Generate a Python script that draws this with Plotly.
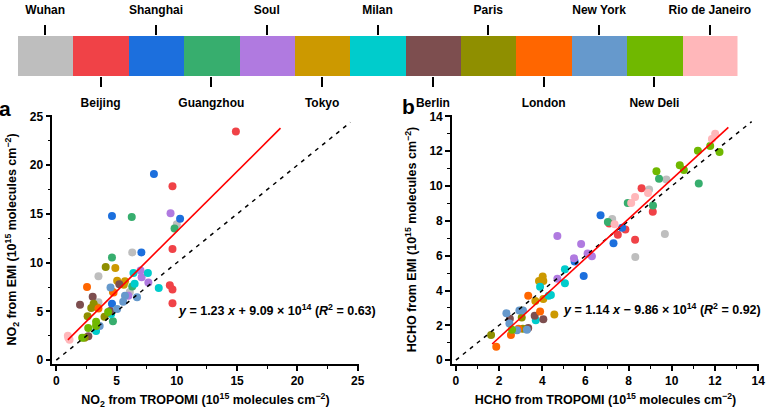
import plotly.graph_objects as go

FONT = "Liberation Sans"

cities = ["Wuhan", "Beijing", "Shanghai", "Guangzhou", "Soul", "Tokyo", "Milan",
          "Berlin", "Paris", "London", "New York", "New Deli", "Rio de Janeiro"]
colors = ["#bebebe", "#f04247", "#1c6fdd", "#37ae6e", "#b07ae0", "#cc9900", "#00cccc",
          "#7d4e4f", "#8f8f00", "#ff6600", "#6699cc", "#70b800", "#ffb7ba"]

# panel a: NO2 (10^15 molecules cm-2), TROPOMI (x) vs EMI (y)
no2_x = {
    "Wuhan": [3.5, 6.3, 10.0, 6.1, 3.5],
    "Beijing": [14.9, 9.64, 9.64, 9.42, 9.64, 9.64],
    "Shanghai": [8.1, 4.62, 10.27, 7.06, 4.62],
    "Guangzhou": [6.26, 9.81, 4.62, 6.3, 4.7],
    "Soul": [9.48, 6.99, 7.08, 7.64, 5.98],
    "Tokyo": [4.9, 5.05, 5.7, 4.7, 5.6, 3.4],
    "Milan": [6.4, 7.6, 6.5, 8.5, 3.3, 4.55],
    "Berlin": [3.02, 1.97, 5.23, 2.66, 4.46],
    "Paris": [4.1, 2.9, 3.1, 2.6, 4.0, 2.35],
    "London": [2.55, 4.75, 3.5, 3.35],
    "New York": [4.5, 5.7, 5.55, 5.05, 6.7, 3.6],
    "New Deli": [3.3, 2.65, 2.15, 4.3, 3.3],
    "Rio de Janeiro": [0.96, 1.1, 1.0],
}
no2_y = {
    "Wuhan": [8.6, 11.05, 13.95, 7.0, 5.95],
    "Beijing": [23.45, 17.85, 11.4, 7.7, 7.25, 5.85],
    "Shanghai": [19.1, 14.8, 14.5, 11.05, 5.8],
    "Guangzhou": [14.7, 13.5, 10.54, 7.55, 4.0],
    "Soul": [15.07, 9.2, 8.5, 7.98, 6.6],
    "Tokyo": [9.45, 8.15, 8.1, 7.0, 7.75, 5.4],
    "Milan": [8.95, 8.95, 7.85, 7.4, 3.0, 4.75],
    "Berlin": [6.5, 5.7, 7.8, 2.45, 5.05],
    "Paris": [9.55, 5.35, 5.8, 4.5, 4.45, 2.3],
    "London": [7.5, 6.95, 5.3, 3.65],
    "New York": [7.45, 6.6, 6.0, 5.25, 6.45, 3.5],
    "New Deli": [3.95, 3.3, 2.3, 4.95, 3.5],
    "Rio de Janeiro": [2.5, 2.1, 2.3],
}

# panel b: HCHO (10^15 molecules cm-2), TROPOMI (x) vs EMI (y)
hcho_x = {
    "Wuhan": [9.75, 8.95, 7.24, 9.68, 8.31],
    "Beijing": [8.6, 9.12, 7.5, 7.85, 8.3, 7.1],
    "Shanghai": [6.7, 7.3, 7.7, 5.5, 5.92],
    "Guangzhou": [9.41, 11.25, 7.96, 9.13, 7.04],
    "Soul": [4.7, 5.8, 6.1, 6.3, 5.47, 4.7],
    "Tokyo": [3.85, 4.02, 4.05, 3.68, 4.05, 4.56],
    "Milan": [3.9, 4.3, 4.4, 3.7, 5.05, 5.05],
    "Berlin": [2.5, 3.65, 4.05, 3.35],
    "Paris": [1.63, 3.05, 3.05, 3.1],
    "London": [3.35, 3.9, 2.55, 1.87, 2.9],
    "New York": [2.34, 2.48, 2.94, 3.11, 2.83, 3.29],
    "New Deli": [9.29, 10.37, 10.56, 11.21, 11.78, 12.21, 2.6],
    "Rio de Janeiro": [12.01, 11.86, 8.9, 8.3, 8.12, 7.35],
}
hcho_y = {
    "Wuhan": [10.38, 9.8, 8.1, 7.25, 5.92],
    "Beijing": [9.87, 8.52, 7.2, 7.5, 6.92, 7.85],
    "Shanghai": [8.32, 6.72, 7.6, 5.66, 4.84],
    "Guangzhou": [10.42, 10.15, 9.03, 8.88, 7.93],
    "Soul": [7.13, 6.67, 6.13, 5.97, 5.85, 4.67],
    "Tokyo": [4.55, 4.8, 4.55, 3.4, 3.52, 2.62],
    "Milan": [4.22, 3.7, 3.75, 2.3, 5.22, 4.42],
    "Berlin": [2.38, 2.55, 2.35, 1.85],
    "Paris": [1.45, 2.45, 2.85, 1.8],
    "London": [3.7, 2.8, 1.45, 0.77, 1.8],
    "New York": [2.7, 2.1, 2.85, 2.85, 1.72, 1.75],
    "New Deli": [10.85, 11.2, 10.92, 12.02, 12.3, 11.95, 1.75],
    "Rio de Janeiro": [13.0, 12.7, 9.6, 9.37, 9.02, 7.8],
}

# regression lines (end points) and 1:1 lines
fit_a_x, fit_a_y = [0.96, 18.6], [2.09, 23.8]
fit_b_x, fit_b_y = [1.68, 12.62], [0.93, 13.37]
one_a = [0, 24.4]
one_b = [0, 13.7]

eq_a = "<i>y</i> = 1.23 <i>x</i> + 9.09 × 10<sup>14</sup> (<i>R</i><sup>2</sup> = 0.63)"
eq_b = "<i>y</i> = 1.14 <i>x</i> − 9.86 × 10<sup>14</sup> (<i>R</i><sup>2</sup> = 0.92)"

W, H = 768, 412


def px(v, total):
    return v / total


fig = go.Figure()

# city colour strip
idx = list(range(len(cities)))
fig.add_trace(go.Bar(x=idx, y=[1] * len(cities), width=1, marker=dict(color=colors, line_width=0),
                     xaxis="x3", yaxis="y3", showlegend=False, hoverinfo="skip"))

for name, col in zip(cities, colors):
    fig.add_trace(go.Scatter(x=no2_x[name], y=no2_y[name], mode="markers", name=name,
                             marker=dict(color=col, size=8), xaxis="x", yaxis="y", showlegend=False))
    fig.add_trace(go.Scatter(x=hcho_x[name], y=hcho_y[name], mode="markers", name=name,
                             marker=dict(color=col, size=8), xaxis="x2", yaxis="y2", showlegend=False))

fig.add_trace(go.Scatter(x=one_a, y=one_a, mode="lines", line=dict(color="black", width=1.5, dash="4px,5px"),
                         xaxis="x", yaxis="y", showlegend=False))
fig.add_trace(go.Scatter(x=fit_a_x, y=fit_a_y, mode="lines", line=dict(color="#ff0000", width=1.6),
                         xaxis="x", yaxis="y", showlegend=False))
fig.add_trace(go.Scatter(x=one_b, y=one_b, mode="lines", line=dict(color="black", width=1.5, dash="4px,5px"),
                         xaxis="x2", yaxis="y2", showlegend=False))
fig.add_trace(go.Scatter(x=fit_b_x, y=fit_b_y, mode="lines", line=dict(color="#ff0000", width=1.6),
                         xaxis="x2", yaxis="y2", showlegend=False))

tickfont = dict(family=FONT, size=12, color="black", weight="bold")
titlefont = dict(family=FONT, size=12.5, color="black", weight="bold")
ydom = [px(412 - 364.2, H), px(412 - 114.8, H)]


def ax(dom, rng, dtick, minor, title, anchor, standoff):
    return dict(domain=dom, range=rng, dtick=dtick, tick0=0, showgrid=False, zeroline=False,
                showline=True, linecolor="black", linewidth=1.5, ticks="outside", ticklen=5,
                tickwidth=1.5, tickcolor="black", tickfont=tickfont, anchor=anchor, automargin=False,
                minor=dict(ticks="outside", ticklen=3, tickwidth=1.2, tickcolor="black", dtick=minor, tick0=0),
                title=dict(text=title, font=titlefont, standoff=standoff))


strip = dict(domain=[px(17.5, W), px(737.5, W)], range=[-0.5, 12.5], anchor="y3",
             ticks="outside", ticklen=10, tickwidth=1.5, tickcolor="black", tickfont=tickfont,
             showgrid=False, zeroline=False, showline=False, automargin=False, ticklabelstandoff=6)

fig.update_layout(
    template="none",
    width=W, height=H, margin=dict(l=0, r=0, t=0, b=0, autoexpand=False),
    paper_bgcolor="white", plot_bgcolor="white", bargap=0,
    font=dict(family=FONT, color="black"),
    xaxis=ax([px(52.3, W), px(358.6, W)], [-0.33, 25.08], 5, 2.5,
             "NO<sub>2</sub> from TROPOMI (10<sup>15</sup> molecules cm<sup>−2</sup>)", "y", 8),
    yaxis=ax(ydom, [-0.41, 25.17], 5, 2.5,
             "NO<sub>2</sub> from EMI (10<sup>15</sup> molecules cm<sup>−2</sup>)", "x", 10),
    xaxis2=ax([px(451.9, W), px(759, W)], [-0.185, 14.04], 2, 1,
              "HCHO from TROPOMI (10<sup>15</sup> molecules cm<sup>−2</sup>)", "y2", 8),
    yaxis2=ax(ydom, [-0.23, 14.09], 2, 1,
              "HCHO from EMI (10<sup>15</sup> molecules cm<sup>−2</sup>)", "x2", 10),
    xaxis3=dict(strip, tickvals=idx[1::2], ticktext=cities[1::2]),
    xaxis4=dict(strip, overlaying="x3", side="top", tickvals=idx[0::2], ticktext=cities[0::2]),
    yaxis3=dict(domain=[px(412 - 76, H), px(412 - 36, H)], range=[0, 1], anchor="x3",
                visible=False, automargin=False),
)

# invisible point so the top strip axis is drawn
fig.add_trace(go.Scatter(x=[idx[0]], y=[0.5], mode="markers", marker=dict(opacity=0),
                         xaxis="x4", yaxis="y3", showlegend=False, hoverinfo="skip"))

fig.add_annotation(text=eq_a, xref="paper", yref="paper", x=px(377.5, W), y=px(412 - 310, H),
                   xanchor="right", yanchor="middle", showarrow=False,
                   font=dict(family=FONT, size=12.5, color="black", weight="bold"))
fig.add_annotation(text=eq_b, xref="paper", yref="paper", x=px(763, W), y=px(412 - 308.5, H),
                   xanchor="right", yanchor="middle", showarrow=False,
                   font=dict(family=FONT, size=12.5, color="black", weight="bold"))
fig.add_annotation(text="a", xref="paper", yref="paper", x=px(5, W), y=px(412 - 108, H),
                   xanchor="center", yanchor="middle", showarrow=False,
                   font=dict(family=FONT, size=21, color="black", weight="bold"))
fig.add_annotation(text="b", xref="paper", yref="paper", x=px(408, W), y=px(412 - 106, H),
                   xanchor="center", yanchor="middle", showarrow=False,
                   font=dict(family=FONT, size=21, color="black", weight="bold"))

# the page's default 8px body margin would push the figure off its 768x412 window
fig.write_html("out.html", config={"displayModeBar": False},
               post_script="document.body.style.margin='0px';")
